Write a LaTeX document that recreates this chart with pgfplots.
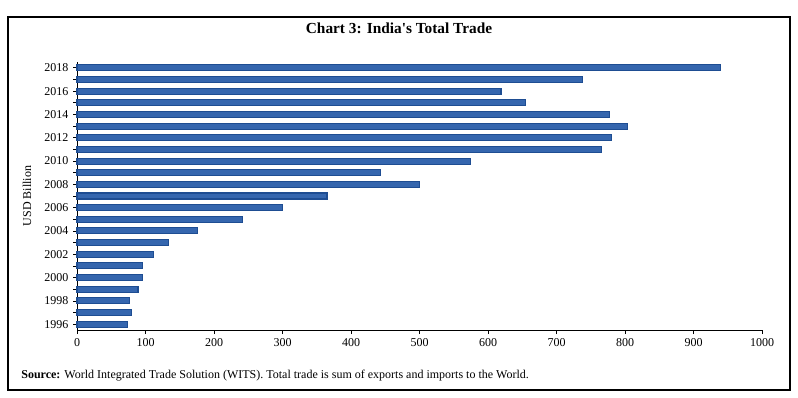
\documentclass[border=0pt]{standalone}
\usepackage{pgfplots}
\pgfplotsset{compat=1.18}
\usepackage{pgfplotstable}
\usepackage{fontspec}
\setmainfont{Liberation Serif}
\definecolor{barfill}{HTML}{3566AE}
\definecolor{bardraw}{HTML}{1E4D92}
\pgfplotstableread{
idx year value
0 1996 74
1 1997 79
2 1998 77
3 1999 89
4 2000 96
5 2001 96
6 2002 111
7 2003 133
8 2004 176
9 2005 241
10 2006 300
11 2007 365
12 2008 500
13 2009 443
14 2010 574
15 2011 766
16 2012 780
17 2013 804
18 2014 777
19 2015 655
20 2016 619
21 2017 738
22 2018 940
}\tradedata
\begin{document}
\begin{tikzpicture}
\fill[white] (0,0) rectangle (598.5pt,297.75pt);
\draw[black, line width=0.8pt] (6pt,5.25pt) rectangle (592.5pt,285pt);
\node[font=\fontsize{11.5}{13}\selectfont\bfseries] at (299.25pt,276.75pt) {Chart 3: India\textquotesingle s Total Trade};
\begin{axis}[
  at={(57.75pt,50.25pt)}, anchor=south west,
  scale only axis, width=513.75pt, height=201pt,
  xbar, bar width=4.5pt,
  xmin=0, xmax=1000, ymin=-0.5, ymax=22.5,
  xtick={0,100,...,1000},
  ytick={0,2,...,22},
  yticklabels={1996,1998,2000,2002,2004,2006,2008,2010,2012,2014,2016,2018},
  minor ytick={1,3,...,21},
  axis x line*=bottom, axis y line*=left,
  axis line style={black, line width=0.6pt},
  tick align=outside,
  major tick length=3pt, minor tick length=3pt,
  tick style={black, line width=0.5pt},
  ticklabel style={font=\fontsize{9}{10}\selectfont},
  /pgf/number format/assume math mode=true,
  /pgf/number format/1000 sep={},
  xtick pos=bottom, ytick pos=left,
  clip=false,
]
\addplot[draw=bardraw, fill=barfill, line width=0.8pt] table[x=value, y=idx] {\tradedata};
\end{axis}
\node[rotate=90, font=\fontsize{9}{10}\selectfont] at (20.25pt,150.75pt) {USD Billion};
\node[anchor=west, font=\fontsize{9}{10}\selectfont] at (12.5pt,15.75pt) {\textbf{Source:} World Integrated Trade Solution (WITS). Total trade is sum of exports and imports to the World.};
\end{tikzpicture}
\end{document}
